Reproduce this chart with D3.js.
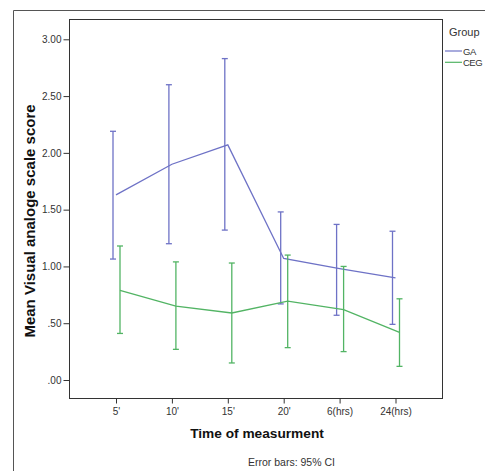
<!DOCTYPE html>
<html>
<head>
<meta charset="utf-8">
<script src="https://cdn.jsdelivr.net/npm/d3@7"></script>
<style>
  body { margin: 0; background: #ffffff; }
  text { font-family: Arial, "Liberation Sans", sans-serif; }
</style>
</head>
<body>
<script>
var w = 485;
var h = 471;

// data
var times = ["5'", "10'", "15'", "20'", "6(hrs)", "24(hrs)"];
var gaMean  = [1.63, 1.90, 2.07, 1.07, 0.98, 0.90];
var gaLow   = [1.065, 1.20, 1.32, 0.67, 0.57, 0.49];
var gaHigh  = [2.19, 2.60, 2.83, 1.48, 1.37, 1.31];
var cegMean = [0.79, 0.65, 0.59, 0.695, 0.62, 0.42];
var cegLow  = [0.41, 0.27, 0.15, 0.285, 0.25, 0.12];
var cegHigh = [1.18, 1.04, 1.03, 1.10, 1.00, 0.715];
var yTicks = [0, 0.5, 1, 1.5, 2, 2.5, 3];
var yTickLabels = [".00", ".50", "1.00", "1.50", "2.00", "2.50", "3.00"];

var groups = [
  {name: "GA", mean: gaMean, low: gaLow, high: gaHigh, color: "#6e72c6", lineOff: 0, barOff: -3},
  {name: "CEG", mean: cegMean, low: cegLow, high: cegHigh, color: "#52b464", lineOff: 4, barOff: 4}
];

var plot = {left: 69, top: 19, right: 442, bottom: 398};

var svg = d3.select("body")
    .append("svg")
    .attr("width", w)
    .attr("height", h);

svg.append("rect")
   .attr("width", w)
   .attr("height", h)
   .attr("fill", "#ffffff");

// outer frame (left and top only)
svg.append("path")
   .attr("d", "M13.5," + h + "V10.5H" + w)
   .attr("fill", "none")
   .attr("stroke", "#555")
   .attr("stroke-width", 1);

var x = d3.scalePoint()
    .domain(times)
    .range([116, 395.5]);

var y = d3.scaleLinear()
    .domain([0, 3])
    .range([380, 39.3]);

// plot box
svg.append("rect")
   .attr("x", plot.left + 0.5)
   .attr("y", plot.top + 0.5)
   .attr("width", plot.right - plot.left)
   .attr("height", plot.bottom - plot.top)
   .attr("fill", "none")
   .attr("stroke", "#333")
   .attr("stroke-width", 1);

var yAxis = svg.append("g")
    .attr("transform", "translate(" + (plot.left + 0.5) + ",0)")
    .call(d3.axisLeft(y).tickValues(yTicks).tickSize(6).tickPadding(2)
        .tickFormat(function(d, i) { return yTickLabels[i]; }));
yAxis.select(".domain").remove();
yAxis.selectAll("line").attr("stroke", "#333");
yAxis.selectAll("text").attr("font-size", 10).attr("fill", "#333")
    .attr("font-family", "Arial, 'Liberation Sans', sans-serif");

var xAxis = svg.append("g")
    .attr("transform", "translate(0," + (plot.bottom + 0.5) + ")")
    .call(d3.axisBottom(x).tickSize(5).tickPadding(4));
xAxis.select(".domain").remove();
xAxis.selectAll("line").attr("stroke", "#333");
xAxis.selectAll("text").attr("font-size", 10).attr("fill", "#333")
    .attr("font-family", "Arial, 'Liberation Sans', sans-serif");

// lines and error bars
groups.forEach(function(g) {
    var line = d3.line()
        .x(function(d, i) { return x(times[i]) + g.lineOff; })
        .y(function(d) { return y(d); });
    svg.append("path")
       .datum(g.mean)
       .attr("d", line)
       .attr("fill", "none")
       .attr("stroke", g.color)
       .attr("stroke-width", 1.3);

    var bars = svg.append("g");
    times.forEach(function(t, i) {
        var bx = x(t) + g.barOff;
        bars.append("line")
            .attr("x1", bx).attr("x2", bx)
            .attr("y1", y(g.low[i])).attr("y2", y(g.high[i]))
            .attr("stroke", g.color).attr("stroke-width", 1.3);
        [g.low[i], g.high[i]].forEach(function(v) {
            bars.append("line")
                .attr("x1", bx - 3).attr("x2", bx + 3)
                .attr("y1", y(v)).attr("y2", y(v))
                .attr("stroke", g.color).attr("stroke-width", 1.3);
        });
    });
});

// axis titles
svg.append("text")
   .text("Mean Visual analoge scale score")
   .attr("transform", "translate(35,221) rotate(-90)")
   .attr("text-anchor", "middle")
   .attr("font-size", 15)
   .attr("font-weight", "bold")
   .attr("fill", "#111");

svg.append("text")
   .text("Time of measurment")
   .attr("x", 257)
   .attr("y", 438)
   .attr("text-anchor", "middle")
   .attr("font-size", 13.7)
   .attr("font-weight", "bold")
   .attr("fill", "#111");

svg.append("text")
   .text("Error bars: 95% CI")
   .attr("x", 248)
   .attr("y", 466)
   .attr("font-size", 10.5)
   .attr("fill", "#333");

// legend
svg.append("text")
   .text("Group")
   .attr("x", 449)
   .attr("y", 36)
   .attr("font-size", 11)
   .attr("fill", "#333");

groups.forEach(function(g, i) {
    var ly = 51 + i * 11.3;
    svg.append("line")
       .attr("x1", 445).attr("x2", 462)
       .attr("y1", ly).attr("y2", ly)
       .attr("stroke", g.color).attr("stroke-width", 1.2);
    svg.append("text")
       .text(g.name)
       .attr("x", 463)
       .attr("y", ly + 3.5)
       .attr("font-size", 9.5)
       .attr("letter-spacing", -0.5)
       .attr("fill", "#333");
});
</script>
</body>
</html>
